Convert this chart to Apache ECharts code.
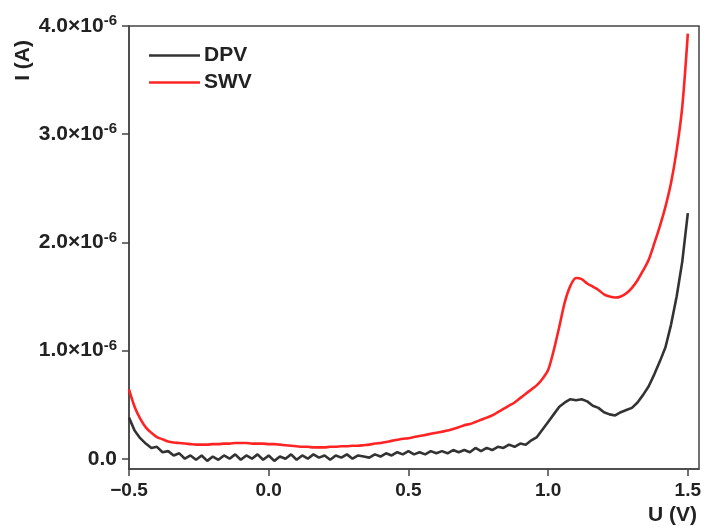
<!DOCTYPE html>
<html>
<head>
<meta charset="utf-8">
<script src="https://cdn.jsdelivr.net/npm/echarts@6/dist/echarts.min.js"></script>
<style>html,body{margin:0;padding:0;background:#fff;}#c{width:708px;height:531px;}</style>
</head>
<body>
<div id="c"></div>
<script>
// Potential U (V)
var potentialU = [-0.50,-0.48,-0.46,-0.44,-0.42,-0.40,-0.38,-0.36,-0.34,-0.32,-0.30,-0.28,-0.26,-0.24,-0.22,-0.20,-0.18,-0.16,-0.14,-0.12,-0.10,-0.08,-0.06,-0.04,-0.02,
0.00,0.02,0.04,0.06,0.08,0.10,0.12,0.14,0.16,0.18,0.20,0.22,0.24,0.26,0.28,0.30,0.32,0.34,0.36,0.38,0.40,0.42,0.44,0.46,0.48,
0.50,0.52,0.54,0.56,0.58,0.60,0.62,0.64,0.66,0.68,0.70,0.72,0.74,0.76,0.78,0.80,0.82,0.84,0.86,0.88,0.90,0.92,0.94,0.96,0.98,
1.00,1.02,1.04,1.06,1.08,1.10,1.12,1.14,1.16,1.18,1.20,1.22,1.24,1.26,1.28,1.30,1.32,1.34,1.36,1.38,1.40,1.42,1.44,1.46,1.48,1.50];
// Current, in units of 1e-6 A
var dpvI = [0.38,0.26,0.19,0.14,0.10,0.11,0.06,0.07,0.03,0.05,0.00,0.03,-0.01,0.03,-0.02,0.02,-0.01,0.03,0.00,0.04,-0.01,0.03,0.00,0.04,-0.01,
0.03,-0.02,0.02,0.00,0.04,-0.01,0.03,0.00,0.04,0.01,0.03,-0.01,0.03,0.01,0.04,0.00,0.03,0.02,0.01,0.04,0.02,0.05,0.03,0.06,0.04,
0.07,0.04,0.06,0.04,0.07,0.05,0.07,0.05,0.08,0.06,0.08,0.06,0.10,0.07,0.10,0.08,0.11,0.10,0.13,0.11,0.14,0.13,0.17,0.20,0.27,
0.34,0.41,0.48,0.52,0.55,0.54,0.55,0.53,0.49,0.47,0.43,0.41,0.40,0.43,0.45,0.47,0.52,0.59,0.67,0.78,0.90,1.03,1.24,1.50,1.82,2.27];
var swvI = [0.64,0.48,0.37,0.29,0.24,0.20,0.18,0.16,0.15,0.145,0.14,0.135,0.13,0.13,0.13,0.135,0.135,0.14,0.14,0.145,0.145,0.145,0.14,0.14,0.14,
0.135,0.135,0.13,0.125,0.12,0.115,0.11,0.11,0.105,0.105,0.105,0.11,0.11,0.115,0.115,0.12,0.12,0.125,0.13,0.14,0.145,0.155,0.165,0.175,0.185,
0.19,0.20,0.21,0.22,0.23,0.24,0.25,0.26,0.275,0.29,0.31,0.32,0.34,0.36,0.38,0.40,0.43,0.46,0.49,0.52,0.56,0.60,0.64,0.68,0.74,
0.82,1.00,1.22,1.45,1.60,1.67,1.66,1.62,1.59,1.56,1.52,1.50,1.49,1.50,1.53,1.58,1.65,1.74,1.84,1.99,2.15,2.33,2.55,2.85,3.25,3.93];
var xTicks = [-0.5, 0.0, 0.5, 1.0, 1.5];
var yTicks = [0, 1, 2, 3, 4];
var seriesNames = ['DPV', 'SWV'];

var FONT = 'Liberation Sans';
var chart = echarts.init(document.getElementById('c'), null, {renderer: 'canvas'});
function pairs(xs, ys){ return xs.map(function(x,i){ return [x, ys[i]]; }); }
chart.setOption({
  backgroundColor: '#ffffff',
  animation: false,
  grid: {left: 129, right: 9, top: 26, bottom: 62, show: true, borderColor: '#444', borderWidth: 1.5, backgroundColor: 'transparent'},
  legend: {
    orient: 'vertical', left: 144, top: 40, icon: 'rect', itemWidth: 51, itemHeight: 2.5, itemGap: 6,
    textStyle: {fontFamily: FONT, fontWeight: 'bold', fontSize: 21, color: '#222', padding: [0,0,0,-1]},
    data: seriesNames
  },
  xAxis: {
    type: 'value', min: -0.5, max: 1.54,
    axisLine: {show: true, onZero: false, lineStyle: {color: '#444', width: 1.5}},
    axisTick: {show: true, inside: false, length: 7, lineStyle: {color: '#444', width: 1.5}, customValues: xTicks},
    axisLabel: {customValues: xTicks, margin: 12, fontFamily: FONT, fontWeight: 'bold', fontSize: 19, color: '#222',
      formatter: function(v){ var s = Math.abs(v).toFixed(1); return v < 0 ? '\u2212' + s : s; }},
    splitLine: {show: false}
  },
  yAxis: {
    type: 'value', min: -0.095, max: 4.0,
    axisLine: {show: true, onZero: false, lineStyle: {color: '#444', width: 1.5}},
    axisTick: {show: true, inside: false, length: 7, lineStyle: {color: '#444', width: 1.5}, customValues: yTicks},
    axisLabel: {customValues: yTicks, margin: 12, fontFamily: FONT, fontWeight: 'bold', fontSize: 19, color: '#222',
      formatter: function(v){ if (v === 0) return '{b|0.0}'; return '{b|' + v.toFixed(1) + '\u00d710}{s|-6}'; },
      rich: {
        b: {fontFamily: FONT, fontWeight: 'bold', fontSize: 21, color: '#222'},
        s: {fontFamily: FONT, fontWeight: 'bold', fontSize: 15, color: '#222', padding: [0,0,10,0]}
      }},
    splitLine: {show: false}
  },
  graphic: [
    {type: 'text', left: 13, top: 40, rotation: Math.PI/2, style: {text: 'I (A)', fontFamily: FONT, fontWeight: 'bold', fontSize: 21, fill: '#222'}},
    {type: 'text', right: 11, top: 505, style: {text: 'U (V)', fontFamily: FONT, fontWeight: 'bold', fontSize: 21, fill: '#222'}}
  ],
  series: [
    {name: seriesNames[0], type: 'line', data: pairs(potentialU, dpvI), showSymbol: false, symbol: 'none',
      lineStyle: {color: '#333333', width: 2.6}, itemStyle: {color: '#333333'}},
    {name: seriesNames[1], type: 'line', data: pairs(potentialU, swvI), showSymbol: false, symbol: 'none', smooth: 0.3,
      lineStyle: {color: '#ff2424', width: 2.6}, itemStyle: {color: '#ff2424'}}
  ]
});
</script>
</body>
</html>
